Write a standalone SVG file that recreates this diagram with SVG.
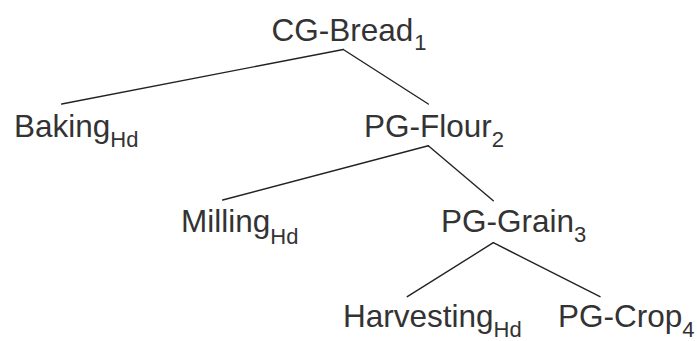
<svg xmlns="http://www.w3.org/2000/svg" width="697" height="341" viewBox="0 0 697 341">
<style>
.t{font-family:"Liberation Sans",Arial,sans-serif;font-size:31.5px;fill:#333}
.s{font-size:22px}
.c line{stroke:#222;stroke-width:1.4;stroke-linecap:round}
</style>
<rect width="697" height="341" fill="#fff"/>
<g class="c" id="connectors">
<line x1="343.3" y1="49.5" x2="61.7" y2="104"/>
<line x1="343.3" y1="49.5" x2="428.3" y2="104"/>
<line x1="428.3" y1="145.7" x2="222.7" y2="200"/>
<line x1="428.3" y1="145.7" x2="493.3" y2="200.7"/>
<line x1="493.3" y1="242.7" x2="407.3" y2="296.7"/>
<line x1="493.3" y1="242.7" x2="600" y2="296.7"/>
</g>
<g id="cg-bread"><text class="t" x="271.5" y="41">CG-Bread<tspan class="s" dx="1" dy="9">1</tspan></text></g>
<g id="baking"><text class="t" x="14" y="137">Baking<tspan class="s" dy="10">Hd</tspan></text></g>
<g id="pg-flour"><text class="t" x="364" y="137">PG-Flour<tspan class="s" dy="10">2</tspan></text></g>
<g id="milling"><text class="t" x="181" y="232">Milling<tspan class="s" dy="12">Hd</tspan></text></g>
<g id="pg-grain"><text class="t" x="441" y="232">PG-Grain<tspan class="s" dy="10">3</tspan></text></g>
<g id="harvesting"><text class="t" x="343" y="327">Harvesting<tspan class="s" dy="10">Hd</tspan></text></g>
<g id="pg-crop"><text class="t" x="558" y="327">PG-Crop<tspan class="s" dy="10">4</tspan></text></g>
</svg>
